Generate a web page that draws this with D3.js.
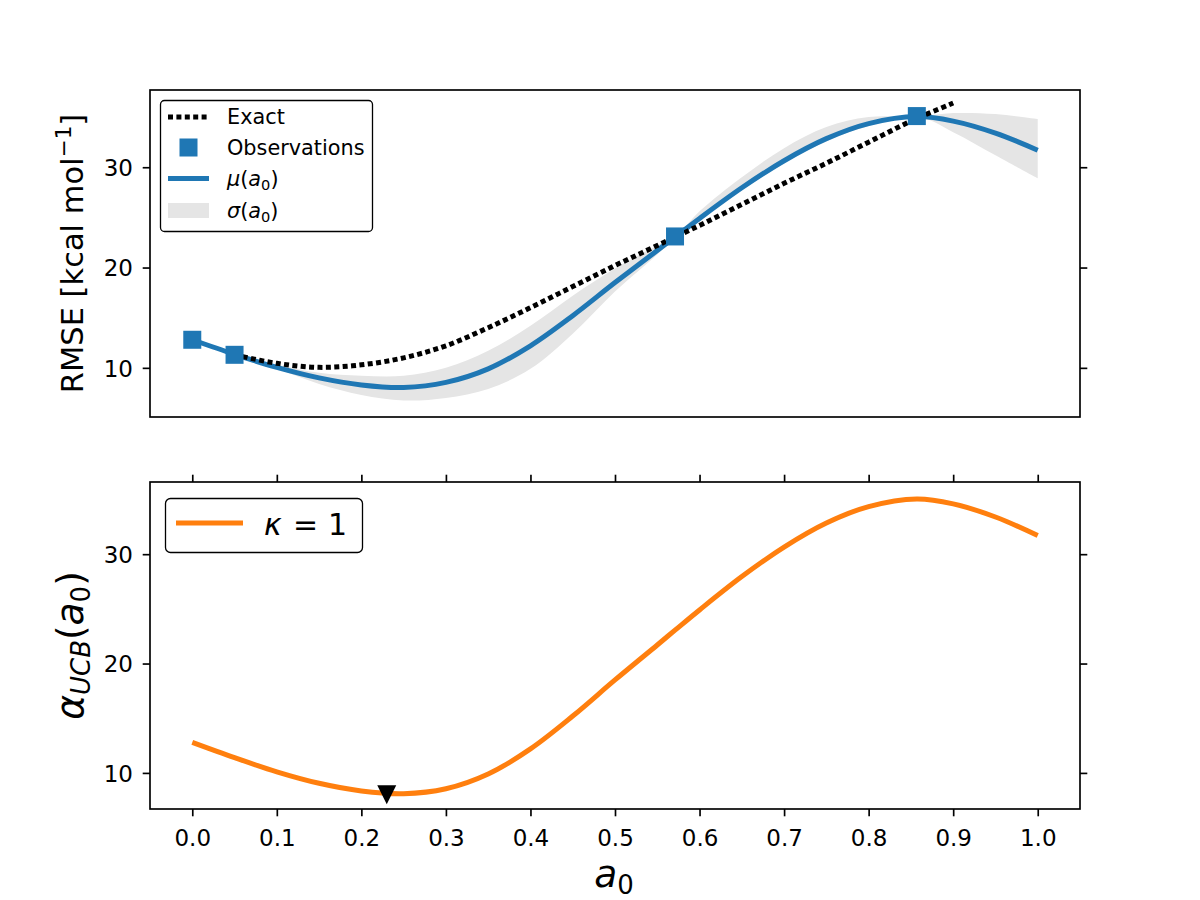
<!DOCTYPE html>
<html><head><meta charset="utf-8">
<script src="https://cdn.jsdelivr.net/npm/d3@7"></script>
<style>
body{margin:0;background:#fff;}
svg{display:block;}
text{font-family:"DejaVu Sans",sans-serif;fill:#000;}
</style>
</head><body>
<svg id="chart" width="1200" height="900"></svg>
<script>
// ---------- data ----------
const aGrid       = [0, 0.05, 0.10, 0.15, 0.20, 0.25, 0.30, 0.35, 0.40, 0.45, 0.50, 0.55, 0.571, 0.60, 0.65, 0.70, 0.75, 0.80, 0.857, 0.90, 0.95, 1.00];
const muValues    = [12.8, 11.35, 10.05, 9.0, 8.3, 8.05, 8.55, 9.9, 12.2, 15.2, 18.5, 21.7, 23.05, 24.9, 27.95, 30.65, 32.85, 34.35, 35.05, 34.6, 33.4, 31.7];
const bandLower   = [12.8, 11.35, 9.9, 8.4, 7.3, 6.75, 7.0, 7.9, 9.9, 13.4, 17.6, 21.3, 23.05, 24.7, 27.7, 30.4, 32.6, 34.1, 35.05, 33.5, 31.2, 28.9];
const bandUpper   = [12.8, 11.35, 10.3, 9.5, 9.2, 9.2, 10.0, 11.7, 14.2, 17.2, 19.9, 22.2, 23.05, 25.6, 29.0, 31.9, 34.0, 35.0, 35.05, 35.4, 35.3, 34.8];
const ucbValues   = [12.8, 11.4, 10.1, 9.05, 8.35, 8.1, 8.55, 9.9, 12.2, 15.2, 18.5, 21.7, 23.05, 24.9, 27.95, 30.65, 32.85, 34.35, 35.05, 34.6, 33.4, 31.7];

const exactA      = [0.05, 0.10, 0.15, 0.20, 0.25, 0.30, 0.35, 0.40, 0.45, 0.50, 0.55, 0.60, 0.65, 0.70, 0.75, 0.80, 0.85, 0.90];
const exactValues = [11.3, 10.45, 10.05, 10.3, 11.0, 12.2, 14.0, 16.0, 18.1, 20.2, 22.2, 24.2, 26.3, 28.4, 30.4, 32.5, 34.6, 36.4];

const obsA        = [0, 0.05, 0.571, 0.857];
const obsValues   = [12.8, 11.3, 23.1, 35.1];

const minMarkerA     = [0.23];
const minMarkerValue = [8.0];

const xTicks       = [0, 0.1, 0.2, 0.3, 0.4, 0.5, 0.6, 0.7, 0.8, 0.9, 1.0];
const yTicksTop    = [10, 20, 30];
const yTicksBottom = [10, 20, 30];

// ---------- layout ----------
const svg = d3.select("#chart");
const L = 150, R = 1080;
const top1 = 90, bot1 = 417, top2 = 482, bot2 = 809;
const TICK = 7.3, SPINE = 1.67, TICKFONT = 23;
const BLUE = "#1f77b4", ORANGE = "#ff7f0e", BAND = "#e5e5e5";

const x = d3.scaleLinear().domain([-0.05, 1.05]).range([L, R]);
const yT = d3.scaleLinear().domain([5.1, 37.7]).range([bot1, top1]);
const yB = d3.scaleLinear().domain([6.7, 36.6]).range([bot2, top2]);

const muData  = aGrid.map((a, i) => ({a, mu: muValues[i], lo: bandLower[i], hi: bandUpper[i], ucb: ucbValues[i]}));
const exData  = exactA.map((a, i) => ({a, v: exactValues[i]}));
const obsData = obsA.map((a, i) => ({a, v: obsValues[i]}));

const curve = d3.curveCatmullRom.alpha(0.5);

// ---------- top panel ----------
const gT = svg.append("g");
gT.append("path").datum(muData)
  .attr("fill", BAND)
  .attr("d", d3.area().curve(curve).x(d => x(d.a)).y0(d => yT(d.lo)).y1(d => yT(d.hi)));
gT.append("path").datum(muData)
  .attr("fill", "none").attr("stroke", BLUE).attr("stroke-width", 5)
  .attr("d", d3.line().curve(curve).x(d => x(d.a)).y(d => yT(d.mu)));
gT.append("path").datum(exData)
  .attr("fill", "none").attr("stroke", "#000").attr("stroke-width", 5)
  .attr("stroke-dasharray", "5,3.4").attr("stroke-linecap", "butt")
  .attr("d", d3.line().curve(curve).x(d => x(d.a)).y(d => yT(d.v)));
const SQ = 18;
gT.selectAll("rect.obs").data(obsData).enter().append("rect")
  .attr("class", "obs")
  .attr("x", d => x(d.a) - SQ / 2).attr("y", d => yT(d.v) - SQ / 2)
  .attr("width", SQ).attr("height", SQ).attr("fill", BLUE);

// axes top panel
const axL1 = gT.append("g").attr("transform", `translate(${L},0)`)
  .call(d3.axisLeft(yT).tickValues(yTicksTop).tickFormat(d3.format("d")).tickSize(TICK).tickPadding(9.7).tickSizeOuter(0));
const axR1 = gT.append("g").attr("transform", `translate(${R},0)`)
  .call(d3.axisRight(yT).tickValues(yTicksTop).tickFormat("").tickSize(TICK).tickSizeOuter(0));

// ---------- bottom panel ----------
const gB = svg.append("g");
gB.append("path").datum(muData)
  .attr("fill", "none").attr("stroke", ORANGE).attr("stroke-width", 5)
  .attr("d", d3.line().curve(curve).x(d => x(d.a)).y(d => yB(d.ucb)));
const TRI = 19;
gB.selectAll("path.min").data(minMarkerA.map((a, i) => ({a, v: minMarkerValue[i]}))).enter()
  .append("path").attr("class", "min")
  .attr("d", d => {
    const cx = x(d.a), cy = yB(d.v), h = TRI / 2;
    return `M${cx - h},${cy - h}L${cx + h},${cy - h}L${cx},${cy + h}Z`;
  })
  .attr("fill", "#000");

const axL2 = gB.append("g").attr("transform", `translate(${L},0)`)
  .call(d3.axisLeft(yB).tickValues(yTicksBottom).tickFormat(d3.format("d")).tickSize(TICK).tickPadding(9.7).tickSizeOuter(0));
const axR2 = gB.append("g").attr("transform", `translate(${R},0)`)
  .call(d3.axisRight(yB).tickValues(yTicksBottom).tickFormat("").tickSize(TICK).tickSizeOuter(0));
const axB2 = gB.append("g").attr("transform", `translate(0,${bot2})`)
  .call(d3.axisBottom(x).tickValues(xTicks).tickFormat(d3.format(".1f")).tickSize(TICK).tickPadding(13.4).tickSizeOuter(0));
const axT2 = gB.append("g").attr("transform", `translate(0,${top2})`)
  .call(d3.axisTop(x).tickValues(xTicks).tickFormat("").tickSize(TICK).tickSizeOuter(0));

// style axes
[axL1, axR1, axL2, axR2, axB2, axT2].forEach(g => {
  g.select(".domain").remove();
  g.selectAll(".tick line").attr("stroke", "#000").attr("stroke-width", SPINE);
  g.selectAll(".tick text").attr("font-size", TICKFONT).attr("font-family", "DejaVu Sans").attr("fill", "#000");
});
[axL1, axL2].forEach(g => g.selectAll(".tick text").attr("dy", "0.36em"));

// frames
[[top1, bot1], [top2, bot2]].forEach(([t, b]) => {
  svg.append("rect").attr("x", L).attr("y", t).attr("width", R - L).attr("height", b - t)
    .attr("fill", "none").attr("stroke", "#000").attr("stroke-width", SPINE);
});

// ---------- axis labels ----------
const yl1 = svg.append("text")
  .attr("transform", `translate(83,${(top1 + bot1) / 2}) rotate(-90)`)
  .attr("text-anchor", "middle").attr("font-size", 30.5);
yl1.append("tspan").text("RMSE [kcal mol");
yl1.append("tspan").attr("font-size", 21.5).attr("dy", -12).text("−1");
yl1.append("tspan").attr("dy", 12).text("]");

const yl2 = svg.append("text")
  .attr("transform", `translate(83,${(top2 + bot2) / 2}) rotate(-90)`)
  .attr("text-anchor", "middle").attr("font-size", 37.5);
yl2.append("tspan").attr("font-style", "italic").text("α");
yl2.append("tspan").attr("font-style", "italic").attr("font-size", 26).attr("dy", 7).text("UCB");
yl2.append("tspan").attr("dy", -7).text("(");
yl2.append("tspan").attr("font-style", "italic").text("a");
yl2.append("tspan").attr("font-size", 26).attr("dy", 7).text("0");
yl2.append("tspan").attr("dy", -7).text(")");

const xl = svg.append("text").attr("x", 614).attr("y", 887)
  .attr("text-anchor", "middle").attr("font-size", 37.5);
xl.append("tspan").attr("font-style", "italic").text("a");
xl.append("tspan").attr("font-size", 26).attr("dy", 7).text("0");

// ---------- legends ----------
const LF = 20.8;
const lg1 = svg.append("g");
lg1.append("rect").attr("x", 160.5).attr("y", 100.5).attr("width", 212).attr("height", 131)
  .attr("rx", 4).attr("fill", "#fff").attr("stroke", "#000").attr("stroke-width", 1.3);
const hx0 = 168, hx1 = 209, tx = 227;
const rows = [117, 147.5, 178.5, 210.5];
lg1.append("line").attr("x1", hx0).attr("x2", hx1).attr("y1", rows[0]).attr("y2", rows[0])
  .attr("stroke", "#000").attr("stroke-width", 5).attr("stroke-dasharray", "5,3.4");
lg1.append("rect").attr("x", (hx0 + hx1) / 2 - SQ / 2).attr("y", rows[1] - SQ / 2)
  .attr("width", SQ).attr("height", SQ).attr("fill", BLUE);
lg1.append("line").attr("x1", hx0).attr("x2", hx1).attr("y1", rows[2]).attr("y2", rows[2])
  .attr("stroke", BLUE).attr("stroke-width", 5);
lg1.append("rect").attr("x", hx0).attr("y", rows[3] - 7.5).attr("width", hx1 - hx0).attr("height", 15)
  .attr("fill", BAND);
lg1.append("text").attr("x", tx).attr("y", rows[0]).attr("dy", "0.35em").attr("font-size", LF).text("Exact");
lg1.append("text").attr("x", tx).attr("y", rows[1]).attr("dy", "0.35em").attr("font-size", LF).text("Observations");
const m1 = lg1.append("text").attr("x", tx).attr("y", rows[2] + 7.3).attr("font-size", LF);
m1.append("tspan").attr("font-style", "italic").text("μ");
m1.append("tspan").text("(");
m1.append("tspan").attr("font-style", "italic").text("a");
m1.append("tspan").attr("font-size", 14.6).attr("dy", 4).text("0");
m1.append("tspan").attr("dy", -4).text(")");
const s1 = lg1.append("text").attr("x", tx).attr("y", rows[3] + 7.3).attr("font-size", LF);
s1.append("tspan").attr("font-style", "italic").text("σ");
s1.append("tspan").text("(");
s1.append("tspan").attr("font-style", "italic").text("a");
s1.append("tspan").attr("font-size", 14.6).attr("dy", 4).text("0");
s1.append("tspan").attr("dy", -4).text(")");

const lg2 = svg.append("g");
lg2.append("rect").attr("x", 165.5).attr("y", 498.5).attr("width", 197).attr("height", 54)
  .attr("rx", 5).attr("fill", "#fff").attr("stroke", "#000").attr("stroke-width", 1.3);
lg2.append("line").attr("x1", 176).attr("x2", 243).attr("y1", 523).attr("y2", 523)
  .attr("stroke", ORANGE).attr("stroke-width", 5);
const k1 = lg2.append("text").attr("y", 535).attr("font-size", 30);
k1.append("tspan").attr("x", 264).attr("font-style", "italic").text("κ");
k1.append("tspan").attr("x", 293).text("=");
k1.append("tspan").attr("x", 328).text("1");
</script>
</body></html>
